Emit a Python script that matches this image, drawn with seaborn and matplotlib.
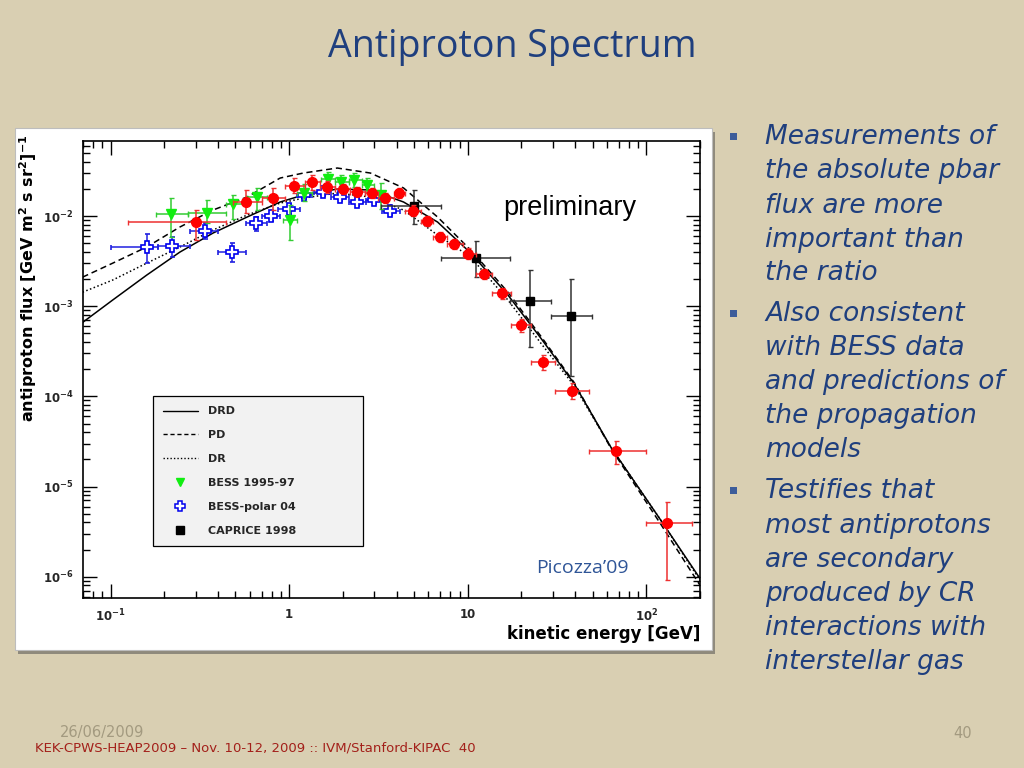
import numpy as np
import pandas as pd
import matplotlib
matplotlib.use("Agg")
import matplotlib.pyplot as plt
import seaborn as sns
from matplotlib.lines import Line2D
from matplotlib.patches import Rectangle
from matplotlib.ticker import LogLocator, FixedLocator, FixedFormatter, NullFormatter

# ---- model curves ----
curve_e = [0.0696, 0.1026, 0.159, 0.244, 0.374, 0.581, 0.890, 1.20, 1.86, 2.85,
           4.37, 6.78, 10.4, 16.8, 25.7, 39.4, 63.5, 121, 204]
drd_flux = [6.6e-4, 1.17e-3, 2.21e-3, 3.98e-3, 6.47e-3, 9.75e-3, 0.01432, 0.0171, 0.01995, 0.01945,
            0.01432, 8.58e-3, 3.88e-3, 1.33e-3, 4.41e-4, 1.39e-4, 2.71e-5, 4.19e-6, 9.0e-7]
pd_flux = [2.10e-3, 3.0e-3, 4.53e-3, 7.55e-3, 0.01166, 0.01626, 0.0264, 0.030, 0.0341, 0.030,
           0.0205, 9.75e-3, 4.19e-3, 1.43e-3, 4.64e-4, 1.43e-4, 2.64e-5, 3.78e-6, 7.55e-7]
dr_flux = [1.43e-3, 1.95e-3, 3.0e-3, 4.53e-3, 6.99e-3, 0.01026, 0.01393, 0.0158, 0.018, 0.01626,
           0.01166, 6.15e-3, 3.5e-3, 1.17e-3, 3.88e-4, 1.32e-4, 2.71e-5, 4.19e-6, 8.6e-7]

# ---- PAMELA (red) ----
pam_e = [0.30, 0.57, 0.81, 1.07, 1.35, 1.63, 2.0, 2.41, 2.92, 3.46, 4.13, 4.93, 5.91, 6.96,
         8.4, 10.1, 12.3, 15.5, 19.8, 26.4, 38.4, 67.6, 131]
pam_f = [0.0086, 0.0143, 0.0158, 0.0215, 0.0239, 0.021, 0.0199, 0.0185, 0.018, 0.0158, 0.018,
         0.0114, 0.0088, 0.0058, 0.0049, 0.0038, 0.00227, 0.00139, 0.000615, 0.000239,
         0.000114, 2.45e-5, 3.9e-6]
pam_elo = [0.125, 0.485, 0.705, 0.95, 1.23, 1.49, 1.81, 2.2, 2.67, 3.16, 3.84, 4.48, 5.44, 6.43,
           7.7, 9.4, 11.1, 13.6, 17.4, 22.6, 31, 48, 100]
pam_ehi = [0.443, 0.705, 0.95, 1.23, 1.49, 1.81, 2.2, 2.67, 3.16, 3.84, 4.48, 5.44, 6.43, 7.7,
           9.4, 11.1, 13.6, 17.4, 22.6, 31, 48, 100, 181]
pam_flo = [0.0054, 0.0108, 0.0117, 0.0180, 0.0195, 0.018, 0.0175, 0.0165, 0.016, 0.014, 0.016,
           0.0099, 0.0078, 0.0051, 0.0043, 0.0033, 0.00198, 0.00121, 0.00052, 0.000198,
           0.000093, 1.8e-5, 9.3e-7]
pam_fhi = [0.0117, 0.0195, 0.0205, 0.0264, 0.0286, 0.0245, 0.0226, 0.021, 0.0203, 0.0178, 0.0203,
           0.0131, 0.0100, 0.0066, 0.0056, 0.0044, 0.0026, 0.00160, 0.00073, 0.00029,
           0.000139, 3.2e-5, 6.8e-6]

# ---- BESS 1995-97 (green) ----
b97_e = [0.217, 0.346, 0.485, 0.661, 1.01, 1.21, 1.66, 1.96, 2.32, 2.74, 3.25]
b97_f = [0.0105, 0.0108, 0.0136, 0.0163, 0.009, 0.018, 0.0258, 0.0239, 0.0251, 0.0221, 0.0171]
b97_elo = [0.179, 0.271, 0.443, 0.573, 0.925, 1.11, 1.5, 1.8, 2.15, 2.55, 3.0]
b97_ehi = [0.271, 0.443, 0.573, 0.752, 1.11, 1.35, 1.8, 2.15, 2.55, 3.0, 3.55]
b97_flo = [0.0059, 0.0084, 0.0093, 0.0118, 0.0054, 0.0148, 0.0215, 0.0200, 0.0210, 0.0180, 0.0120]
b97_fhi = [0.0158, 0.0151, 0.0171, 0.0205, 0.0133, 0.0225, 0.0305, 0.0285, 0.0300, 0.0265, 0.0235]

# ---- BESS-polar 04 (blue) ----
bp_e = [0.159, 0.22, 0.337, 0.478, 0.652, 0.79, 1.0, 1.21, 1.55, 1.93, 2.41, 3.0, 3.69]
bp_f = [0.00453, 0.00464, 0.0068, 0.0040, 0.0084, 0.0100, 0.0120, 0.0171, 0.0185, 0.0163,
        0.0143, 0.0151, 0.0114]
bp_elo = [0.100, 0.183, 0.278, 0.40, 0.573, 0.705, 0.87, 1.1, 1.38, 1.72, 2.15, 2.7, 3.3]
bp_ehi = [0.183, 0.278, 0.40, 0.573, 0.752, 0.89, 1.15, 1.35, 1.72, 2.15, 2.7, 3.3, 4.2]
bp_flo = [0.0030, 0.0035, 0.0055, 0.0031, 0.0068, 0.0088, 0.0105, 0.0155, 0.0168, 0.0148,
          0.0130, 0.0137, 0.0102]
bp_fhi = [0.0063, 0.0058, 0.0084, 0.0050, 0.0098, 0.0114, 0.0137, 0.0190, 0.0204, 0.0180,
          0.0158, 0.0167, 0.0128]

# ---- CAPRICE 1998 (black) ----
cap_e = [4.97, 11.1, 22.4, 37.9]
cap_f = [0.0129, 0.0034, 0.00114, 0.00077]
cap_elo = [3.25, 7.1, 17.2, 29.2]
cap_ehi = [7.1, 17.2, 29.2, 49.6]
cap_flo = [0.0081, 0.0021, 0.000351, 0.000167]
cap_fhi = [0.0194, 0.0053, 0.0025, 0.0020]

x_ticks = [0.1, 1, 10, 100]
x_ticklabels = ["$10^{-1}$", "1", "10", "$10^{2}$"]

bullets = [
    ["Measurements of", "the absolute pbar", "flux are more", "important than", "the ratio"],
    ["Also consistent", "with BESS data", "and predictions of", "the propagation", "models"],
    ["Testifies that", "most antiprotons", "are secondary", "produced by CR",
     "interactions with", "interstellar gas"],
]

sns.set_theme(style="ticks")
plt.rcParams["font.family"] = ["DejaVu Sans"]
plt.rcParams["mathtext.default"] = "bf"

bg = "#d9cfb2"
navy = "#1f3f7e"
fig = plt.figure(figsize=(10.24, 7.68), dpi=100, facecolor=bg)

# white panel with a grey shadow
fig.patches.append(Rectangle((18 / 1024, 1 - 654 / 768), 697 / 1024, 522 / 768,
                             transform=fig.transFigure, facecolor="#8f8a7c", edgecolor="none", zorder=-5))
fig.patches.append(Rectangle((15 / 1024, 1 - 650 / 768), 697 / 1024, 522 / 768,
                             transform=fig.transFigure, facecolor="white", edgecolor="#bdbdbd",
                             linewidth=0.8, zorder=-4))

ax = fig.add_axes([83 / 1024, 1 - 598 / 768, 617 / 1024, 457 / 768])
ax.set_zorder(3)
ax.set_facecolor("white")
ax.set_xscale("log")
ax.set_yscale("log")

curves = pd.DataFrame({
    "E": curve_e * 3,
    "flux": drd_flux + pd_flux + dr_flux,
    "model": ["DRD"] * len(curve_e) + ["PD"] * len(curve_e) + ["DR"] * len(curve_e),
})
sns.lineplot(data=curves, x="E", y="flux", style="model", color="black", linewidth=1.1,
             dashes={"DRD": "", "PD": (4, 2.5), "DR": (1, 1.6)}, estimator=None, sort=False,
             legend=False, ax=ax, zorder=2)


def draw(e, f, elo, ehi, flo, fhi, **kw):
    e = np.array(e); f = np.array(f)
    xerr = [e - np.array(elo), np.array(ehi) - e]
    yerr = [f - np.array(flo), np.array(fhi) - f]
    ax.errorbar(e, f, xerr=xerr, yerr=yerr, linestyle="none", capsize=1.8, elinewidth=1.1,
                capthick=1.0, **kw)


draw(bp_e, bp_f, bp_elo, bp_ehi, bp_flo, bp_fhi, marker="P", markersize=8,
     markerfacecolor="white", markeredgecolor="#0000ee", markeredgewidth=1.2, ecolor="#2020e0", zorder=3)
draw(b97_e, b97_f, b97_elo, b97_ehi, b97_flo, b97_fhi, marker="v", markersize=6.5,
     color="#11ee11", ecolor="#33cc33", zorder=4)
draw(cap_e, cap_f, cap_elo, cap_ehi, cap_flo, cap_fhi, marker="s", markersize=6,
     color="black", ecolor="#333333", zorder=4)
draw(pam_e, pam_f, pam_elo, pam_ehi, pam_flo, pam_fhi, marker="o", markersize=7,
     color="#ff0000", ecolor="#ee3030", zorder=5)

ax.set_xlim(0.07, 200)
ax.set_ylim(5.8e-7, 0.068)

ax.xaxis.set_major_locator(FixedLocator(x_ticks))
ax.xaxis.set_major_formatter(FixedFormatter(x_ticklabels))
ax.xaxis.set_minor_locator(LogLocator(base=10, subs=np.arange(2, 10), numticks=20))
ax.xaxis.set_minor_formatter(NullFormatter())
ax.yaxis.set_major_locator(LogLocator(base=10, numticks=20))
ax.yaxis.set_minor_locator(LogLocator(base=10, subs=np.arange(2, 10), numticks=20))
ax.yaxis.set_minor_formatter(NullFormatter())
ax.tick_params(which="both", direction="in", top=True, right=True, color="black", width=1.0)
ax.tick_params(which="major", length=10, labelsize=8.5, pad=7)
ax.tick_params(which="minor", length=5)
for s in ax.spines.values():
    s.set_linewidth(1.2)
    s.set_color("black")
for lbl in ax.get_xticklabels() + ax.get_yticklabels():
    lbl.set_fontweight("bold")

ax.set_ylabel("antiproton flux [GeV m$^{2}$ s sr$^{2}$]$^{-1}$", fontsize=11.5, fontweight="bold",
              loc="top", color="black")
ax.yaxis.set_label_coords(-0.072, 1.015)
ax.set_xlabel("kinetic energy [GeV]", fontsize=12, fontweight="bold", loc="right", color="black")
ax.xaxis.set_label_coords(1.0, -0.058)

handles = [
    Line2D([], [], color="black", linewidth=1.0),
    Line2D([], [], color="black", linewidth=1.0, linestyle=(0, (3, 2))),
    Line2D([], [], color="black", linewidth=1.0, linestyle=(0, (1, 1.5))),
    Line2D([], [], linestyle="none", marker="v", markersize=6, color="#11ee11"),
    Line2D([], [], linestyle="none", marker="P", markersize=7.5, markerfacecolor="white",
           markeredgecolor="#0000ee", markeredgewidth=1.1),
    Line2D([], [], linestyle="none", marker="s", markersize=5.5, color="black"),
]
labels = ["DRD", "PD", "DR", "BESS 1995-97", "BESS-polar 04", "CAPRICE 1998"]
leg = ax.legend(handles, labels, loc="lower left", bbox_to_anchor=(0.113, 0.114, 0.34, 0.344),
                mode="expand", frameon=True, fancybox=False, edgecolor="black", facecolor="#f2f2f2",
                framealpha=1, prop={"weight": "bold", "size": 8}, handlelength=3.2,
                labelspacing=1.25, borderpad=0.9, handletextpad=0.9, borderaxespad=0)
leg.get_frame().set_linewidth(0.9)

ax.text(0.681, 0.853, "preliminary", transform=ax.transAxes, fontsize=19.5,
        family="Liberation Sans", va="center", ha="left", color="black")
ax.text(582 / 1024, 1 - 568 / 768, "Picozza\u201909", fontsize=14, color="#2f5597",
        ha="center", va="center", family="Open Sans", transform=fig.transFigure)

fig.text(0.5, 1 - 47 / 768, "Antiproton Spectrum", fontsize=27, color=navy, ha="center",
         va="center", family="Open Sans")

line_y = [[137, 171, 206, 240, 273], [314, 348, 382, 416, 450], [491, 526, 560, 594, 628, 662]]
for block, ys in zip(bullets, line_y):
    fig.patches.append(Rectangle((730 / 1024, 1 - (ys[0] + 3) / 768), 7 / 1024, 7 / 768,
                                 transform=fig.transFigure, facecolor="#3d5d9a", edgecolor="none"))
    for txt, yy in zip(block, ys):
        fig.text(765 / 1024, 1 - yy / 768, txt, fontsize=19, color=navy, ha="left", va="center",
                 family="DejaVu Sans", style="oblique")

fig.text(60 / 1024, 1 - 733 / 768, "26/06/2009", fontsize=10.5, color="#a39a80", va="center")
fig.text(953 / 1024, 1 - 733 / 768, "40", fontsize=10.5, color="#a39a80", va="center")
fig.text(35 / 1024, 1 - 748 / 768, "KEK-CPWS-HEAP2009 \u2013 Nov. 10-12, 2009 :: IVM/Stanford-KIPAC  40",
         fontsize=9.5, color="#a3201a", va="center")

fig.savefig("out.png", dpi=100, facecolor=bg)
